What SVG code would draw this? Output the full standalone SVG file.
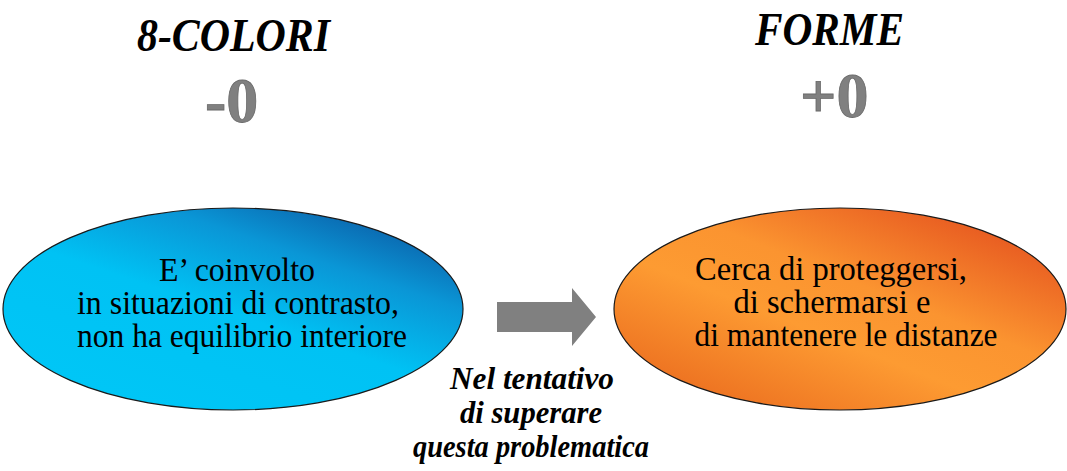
<svg xmlns="http://www.w3.org/2000/svg" width="1067" height="471" viewBox="0 0 1067 471">
<style>
.title{font-family:"Liberation Serif","Times New Roman",serif;font-weight:bold;font-style:italic;font-size:46px;fill:#000}
.score{font-family:"Liberation Serif","Times New Roman",serif;font-weight:bold;font-size:64px;fill:#808080;stroke:#6a6a6a;stroke-width:0.8}
.body{font-family:"Liberation Serif","Times New Roman",serif;font-size:33px;fill:#000;text-anchor:middle}
.lbl{font-family:"Liberation Serif","Times New Roman",serif;font-weight:bold;font-style:italic;font-size:31px;fill:#000;text-anchor:middle}
.node{stroke:#1a1a1a;stroke-width:1.2}
</style>
<defs>
<linearGradient id="gBlue" x1="0.2" y1="0.9" x2="0.85" y2="0.05">
<stop offset="0" stop-color="#00c6f6"/>
<stop offset="0.45" stop-color="#00c2f4"/>
<stop offset="0.75" stop-color="#0a96d6"/>
<stop offset="1" stop-color="#0b5fa8"/>
</linearGradient>
<linearGradient id="gOrange" x1="0.1" y1="0.95" x2="0.9" y2="0.05">
<stop offset="0" stop-color="#ea6a1e"/>
<stop offset="0.4" stop-color="#fd9b32"/>
<stop offset="0.6" stop-color="#fb9430"/>
<stop offset="1" stop-color="#e4501e"/>
</linearGradient>
</defs>
<g id="title-colori">
<text class="title" x="137" y="51" textLength="193" lengthAdjust="spacingAndGlyphs">8-COLORI</text>
<text class="score" x="205" y="122">-0</text>
</g>
<g id="title-forme">
<text class="title" x="755" y="45" textLength="149" lengthAdjust="spacingAndGlyphs">FORME</text>
<text class="score" x="800" y="117">+0</text>
</g>
<g id="node-left">
<ellipse class="node" cx="233" cy="309" rx="230" ry="101" fill="url(#gBlue)"/>
<text class="body" x="237" y="281" textLength="156" lengthAdjust="spacingAndGlyphs">E’ coinvolto</text>
<text class="body" x="238" y="314" textLength="322" lengthAdjust="spacingAndGlyphs">in situazioni di contrasto,</text>
<text class="body" x="242" y="347" textLength="330" lengthAdjust="spacingAndGlyphs">non ha equilibrio interiore</text>
</g>
<g id="node-right">
<ellipse class="node" cx="840" cy="309" rx="226" ry="101" fill="url(#gOrange)"/>
<text class="body" x="831" y="280" textLength="272" lengthAdjust="spacingAndGlyphs">Cerca di proteggersi,</text>
<text class="body" x="832" y="313" textLength="197" lengthAdjust="spacingAndGlyphs">di schermarsi e</text>
<text class="body" x="846" y="346" textLength="303" lengthAdjust="spacingAndGlyphs">di mantenere le distanze</text>
</g>
<g id="connectors">
<polygon points="497,302 572,302 572,288 596,317 572,346 572,332 497,332" fill="#808080"/>
</g>
<g id="label">
<text class="lbl" x="532" y="389" textLength="164" lengthAdjust="spacingAndGlyphs">Nel tentativo</text>
<text class="lbl" x="531" y="423" textLength="142" lengthAdjust="spacingAndGlyphs">di superare</text>
<text class="lbl" x="531" y="457" textLength="236" lengthAdjust="spacingAndGlyphs">questa problematica</text>
</g>
</svg>
